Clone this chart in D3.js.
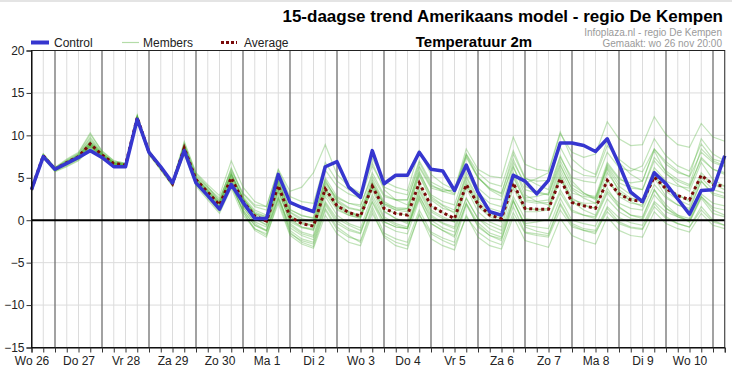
<!DOCTYPE html>
<html><head><meta charset="utf-8">
<script src="https://cdn.jsdelivr.net/npm/d3@7"></script>
<style>body{margin:0;background:#fff;} text{font-family:"Liberation Sans",Arial,sans-serif;}</style>
</head><body>
<script>
const dayLabels = ["Wo 26","Do 27","Vr 28","Za 29","Zo 30","Ma 1","Di 2","Wo 3","Do 4","Vr 5","Za 6","Zo 7","Ma 8","Di 9","Wo 10"];
const yTicks = [-15,-10,-5,0,5,10,15,20];
const control = [3.6,7.5,6.0,6.7,7.4,8.2,7.4,6.3,6.3,11.9,8.0,6.3,4.4,8.2,4.4,2.9,1.3,4.2,2.1,0.2,0.2,5.4,2.1,1.5,1.0,6.3,6.9,3.9,2.7,8.2,4.3,5.3,5.3,8.0,6.0,5.8,3.5,6.5,3.3,1.0,0.6,5.3,4.6,3.1,4.7,9.1,9.1,8.8,8.1,9.6,6.6,3.3,2.2,5.6,4.3,2.5,0.7,3.5,3.6,7.6];
const average = [3.6,7.6,6.0,6.8,7.5,9.0,7.7,6.7,6.5,12.1,8.0,6.2,4.3,8.5,4.8,3.3,1.8,5.0,2.2,0.5,-0.1,4.1,0.4,-0.4,-0.7,3.7,1.7,0.9,0.5,4.0,1.4,0.8,0.6,4.4,1.7,0.9,0.2,4.2,1.9,0.6,0.2,4.4,1.4,1.3,1.3,4.9,2.1,1.7,1.4,4.7,3.1,2.4,2.2,5.1,3.7,2.9,2.4,5.3,4.2,4.0];
const members = [
[3.5,7.8,6.2,7.0,7.6,9.4,7.9,6.8,6.6,12.3,8.2,6.4,4.5, 8.9,5.3,3.9,2.6,5.8,3.1,1.6,1.2,5.3,2.0,1.4,1.1, 5.9,4.0,3.1,2.6,6.4,3.9,3.3,3.0,7.0,4.5,3.8,3.1,7.4,5.0,3.7,3.1, 7.8,4.9,4.6,4.7,8.6,6.0,5.3,5.1,8.8,7.2,6.1,5.7,8.4,6.9,5.8,5.1,8.0,6.8,6.3],
[3.7,7.4,5.8,6.4,7.1,8.6,7.4,6.5,6.3,11.8,7.7,5.9,4.0, 8.0,4.2,2.6,1.0,4.1,1.2,-0.6,-1.3,2.8,-0.9,-1.8,-2.3, 2.0,-0.1,-1.0,-1.5,2.1,-0.6,-1.3,-1.6,2.4,-0.4,-1.2,-2.0,2.0,-0.3,-1.5,-2.0, 2.3,-0.6,-0.8,-1.0,2.6,0.0,-0.4,-0.7,2.5,1.0,0.2,0.0,3.0,1.4,0.6,0.2,3.1,2.0,1.7],
[3.6,7.7,6.1,6.9,7.8,9.8,8.0,6.9,6.6,12.4,8.1,6.3,4.2, 9.1,5.5,4.0,2.2,6.2,2.8,1.2,0.6,5.0,1.3,0.5,0.3, 4.6,2.4,1.5,1.2,4.2,1.1,0.2,-0.4,3.0,0.0,-0.9,-1.4,2.6,0.2,-1.0,-1.6, 2.4,-0.8,-1.3,-1.6,2.0,-0.4,-1.0,-1.2,1.6,0.3,-0.3,-0.6,2.2,1.0,0.4,0.0,2.8,1.5,1.2],
[3.5,7.5,5.9,6.6,7.3,8.8,7.6,6.6,6.4,12.0,8.0,6.1,4.4, 8.4,4.7,3.0,1.6,4.6,1.8,0.2,-0.5,3.6,-0.2,-0.9,-1.1, 3.1,1.2,0.6,0.3,4.3,1.9,1.5,1.4,5.6,3.0,2.2,1.8,6.1,3.8,2.6,2.4, 6.8,4.4,4.9,5.6,10.2,8.0,7.4,7.8,11.6,9.6,8.8,8.9,12.2,10.1,8.9,8.6,11.4,9.8,9.3],
[3.6,7.6,6.0,6.8,7.4,8.9,7.7,6.7,6.5,12.1,7.9,6.2,4.3, 8.6,4.6,3.1,1.4,4.8,1.6,-0.4,-1.2,3.2,-1.4,-2.6,-3.1, 1.2,-1.1,-2.0,-2.4,1.6,-1.5,-2.2,-2.6,1.2,-1.4,-2.1,-2.6,1.8,-0.6,-1.8,-2.4, 2.2,-0.4,-0.2,0.1,3.6,1.2,0.6,0.2,3.2,1.5,0.6,0.4,3.6,1.8,0.6,-0.2,2.6,0.8,0.4],
[3.7,7.6,6.1,7.1,7.9,10.1,8.2,7.0,6.7,12.2,8.1,6.2,4.5, 9.3,5.6,4.2,2.9,7.0,3.9,2.2,1.6,5.9,2.8,2.2,2.0, 6.8,4.6,3.6,3.0,7.3,4.6,3.9,3.5,8.2,5.4,4.3,3.6,7.8,5.1,3.6,2.8, 6.4,3.0,2.2,1.8,5.2,2.2,1.2,0.6,3.8,1.6,0.6,0.2,3.6,1.4,0.4,-0.2,2.8,1.2,0.6],
[3.5,7.6,6.0,6.9,7.6,9.2,7.8,6.8,6.5,12.0,8.0,6.3,4.2, 8.7,4.9,3.4,1.9,5.3,2.5,0.8,0.2,4.6,0.9,0.0,-0.3, 4.2,2.2,1.4,1.1,4.9,2.2,1.4,1.2,5.4,2.6,1.7,0.8,5.0,2.3,1.0,0.6, 5.3,2.2,2.0,2.1,6.0,3.2,2.8,2.6,6.4,4.4,3.8,3.6,7.0,5.4,4.6,4.0,7.2,6.0,5.6],
[3.6,7.3,5.7,6.3,7.0,8.4,7.2,6.4,6.2,11.7,7.8,6.0,4.1, 7.8,4.0,2.4,0.8,3.8,0.6,-1.0,-1.8,2.0,-1.8,-2.8,-3.3, 0.6,-1.6,-2.6,-3.0,0.8,-1.8,-2.6,-3.0,0.6,-1.6,-2.4,-3.0,0.4,-1.4,-2.4,-2.9, 0.9,-1.5,-1.8,-2.0,1.2,-0.8,-1.2,-1.4,1.0,-0.4,-0.9,-1.1,1.6,0.2,-0.4,-0.8,1.2,-0.2,-0.6],
[3.6,7.7,6.1,6.8,7.6,9.3,7.8,6.7,6.6,12.2,8.1,6.2,4.4, 8.8,5.2,3.8,2.4,6.0,3.2,1.8,1.6,6.0,3.4,3.9,5.6, 8.9,5.4,4.0,3.2,6.8,3.6,2.4,1.8,5.8,2.8,1.8,1.2,5.2,2.6,1.4,1.0, 5.6,2.6,2.8,3.2,7.4,5.0,4.6,4.4,8.0,6.2,5.8,6.4,9.6,7.6,6.4,5.8,9.0,7.2,6.8],
[3.7,7.5,5.9,6.7,7.3,8.7,7.5,6.6,6.4,12.0,7.9,6.1,4.2, 8.2,4.4,2.8,1.2,4.4,1.0,-1.2,-2.0,2.4,-1.6,-2.4,-2.8, 1.4,-0.8,-1.8,-2.6,1.2,-2.0,-3.0,-3.4,0.8,-2.2,-3.0,-3.5,0.6,-2.0,-3.0,-3.4, 0.4,-2.4,-2.8,-3.2,0.2,-1.8,-2.4,-2.8,0.4,-1.2,-1.8,-2.0,1.0,-0.4,-1.0,-1.4,0.8,-0.6,-1.0],
[3.5,7.7,6.2,7.2,8.0,10.3,8.1,7.0,6.7,12.3,8.1,6.3,4.3, 8.6,4.9,3.6,2.2,5.4,2.6,1.0,0.4,4.4,0.6,-0.2,-0.6, 3.8,1.8,1.0,0.6,4.6,2.0,1.2,1.0,5.2,2.4,1.4,1.0,5.6,3.2,2.0,1.6, 6.2,3.6,3.2,3.0,7.0,4.2,3.2,2.6,6.2,4.0,3.0,2.4,5.8,4.0,3.0,2.2,5.6,4.2,3.6],
[3.6,7.5,6.0,6.7,7.4,8.9,7.6,6.6,6.5,12.1,8.0,6.2,4.3, 8.5,4.7,3.2,1.6,4.9,1.9,0.2,-0.6,3.6,-0.4,-1.4,-1.8, 2.8,0.6,-0.4,-0.9,3.0,0.2,-0.6,-1.0,3.4,0.6,-0.3,-0.8,3.8,1.0,-0.2,-0.8, 3.8,1.0,1.0,1.2,5.0,2.4,2.0,2.0,6.6,4.8,4.4,4.6,8.4,6.6,5.6,5.2,9.6,7.8,7.0],
[3.6,7.8,6.2,7.0,7.8,9.6,7.9,6.8,6.6,12.2,8.2,6.4,4.5, 8.9,5.0,3.5,2.0,5.5,2.6,0.8,0.0,4.8,1.0,0.2,-0.2, 5.0,2.8,2.0,1.6,5.6,3.0,2.4,2.4,6.8,4.2,3.4,3.0,7.6,5.0,3.8,3.2, 7.2,4.0,3.4,3.0,6.6,3.6,2.6,2.0,5.6,3.6,2.6,2.4,6.2,4.6,4.0,3.8,7.4,6.0,5.4],
[3.6,7.6,6.0,6.6,7.2,8.6,7.4,6.5,6.4,11.9,7.9,6.1,4.2, 8.1,4.3,2.8,1.2,4.0,1.2,-0.6,-1.2,2.6,-0.6,-1.6,-2.0, 2.2,0.2,-0.6,-1.2,2.2,-0.2,-0.8,-1.0,2.8,0.4,-0.4,-1.0,2.6,0.2,-0.6,-1.2, 2.8,0.2,0.0,0.0,3.2,1.0,0.6,0.4,3.4,2.0,1.4,1.2,4.2,2.6,1.8,1.4,4.6,3.2,2.8],
[3.5,7.4,5.8,6.5,7.2,8.7,7.5,6.6,6.4,12.0,7.9,6.0,4.1, 8.3,4.5,3.0,1.5,4.6,1.5,-0.2,-0.8,3.4,0.0,-0.8,-1.0, 3.6,1.6,0.8,0.4,4.4,1.8,1.2,1.4,6.2,3.8,3.4,3.6,8.4,6.0,5.2,5.0, 9.8,6.6,6.0,5.8,10.4,7.2,6.0,5.4,9.4,6.8,5.4,4.6,8.2,5.6,4.2,3.4,6.8,4.8,4.0],
[3.7,7.7,6.0,6.9,7.7,9.1,7.8,6.8,6.5,12.1,8.0,6.2,4.4, 8.7,5.0,3.6,2.0,5.6,2.4,0.6,-0.2,4.2,0.2,-0.8,-1.2, 3.4,1.4,0.6,0.2,3.8,1.0,0.2,-0.2,4.0,1.2,0.4,-0.2,4.2,1.6,0.4,-0.2, 4.4,1.4,1.2,1.4,5.6,2.6,1.8,1.4,4.8,2.8,2.0,1.8,5.4,3.4,2.4,1.8,5.0,3.6,3.2],
[3.6,7.5,5.9,6.8,7.5,9.0,7.7,6.7,6.5,12.1,8.0,6.2,4.3, 8.4,4.8,3.3,1.8,5.2,2.2,0.4,-0.2,4.0,0.4,-0.4,-0.6, 4.4,2.6,2.0,1.8,5.2,2.8,2.4,2.4,6.4,4.0,3.6,3.4,7.8,5.6,4.4,4.0, 8.2,5.0,4.2,3.6,7.6,4.6,3.2,2.4,6.0,3.4,2.2,1.6,5.0,2.8,1.8,1.2,4.6,3.0,2.6],
[3.5,7.6,6.1,6.8,7.5,9.1,7.7,6.7,6.5,12.1,8.0,6.2,4.3, 8.3,4.4,2.9,1.2,4.3,1.0,-1.0,-1.6,2.6,-1.2,-2.2,-2.6, 1.8,-0.4,-1.2,-1.6,2.6,-0.2,-0.8,-1.0,3.6,1.0,0.2,-0.2,4.6,2.0,0.8,0.4, 5.0,2.4,2.2,2.4,6.4,3.8,3.0,2.8,6.8,5.0,4.0,3.6,7.4,5.8,4.8,4.2,8.4,7.0,6.4],
[3.6,7.6,6.0,6.8,7.5,9.0,7.7,6.7,6.5,12.1,8.0,6.2,4.3, 8.5,4.8,3.3,1.8,5.0,2.2,0.5,-0.1,4.1,0.4,-0.4,-0.7, 3.7,1.7,0.9,0.5,4.0,1.4,0.8,0.6,4.4,1.7,0.9,0.2,4.2,1.9,0.6,0.2, 4.4,1.4,1.3,1.3,4.9,2.1,1.7,1.4,4.7,3.1,2.4,2.2,5.1,3.7,2.9,2.4,5.3,4.2,4.0],
[3.6,7.5,6.0,6.7,7.4,8.8,7.6,6.6,6.5,12.0,8.0,6.2,4.3, 8.6,4.9,3.4,2.0,5.4,2.6,0.8,0.4,4.6,1.2,0.6,0.2, 4.8,2.2,1.0,0.4,3.6,0.4,-0.4,-0.8,2.6,-0.4,-1.2,-1.8,2.0,-0.8,-1.8,-2.2, 1.6,-1.4,-1.6,-1.8,1.8,-0.6,-1.2,-1.6,1.4,-0.2,-0.8,-1.0,2.0,0.4,-0.4,-0.8,1.6,0.0,-0.6]
];

const W = 732, H = 369;
const svg = d3.select("body").append("svg").attr("width", W).attr("height", H);
const x = d3.scaleLinear().domain([0, control.length - 1]).range([31.5, 724.75]);
const y = d3.scaleLinear().domain([-15, 20]).range([347.5, 50.5]);
const steps = d3.range(control.length);
const isDay = i => (i - 2) % 4 === 0;

svg.append("rect").attr("x",0).attr("y",0).attr("width",W).attr("height",2).attr("fill","#e4e4e4");

// grid
const g = svg.append("g");
g.selectAll("line.hg").data(yTicks.filter(v => v !== 0 && v !== 20 && v !== -15)).join("line")
  .attr("x1", x(0)).attr("x2", x(59)).attr("y1", d => y(d)).attr("y2", d => y(d))
  .attr("stroke", "#dcdcdc").attr("stroke-width", 1);
g.selectAll("line.vg").data(steps.filter(i => i > 0 && i < 59)).join("line")
  .attr("x1", d => x(d)).attr("x2", d => x(d)).attr("y1", y(20)).attr("y2", y(-15))
  .attr("stroke", d => isDay(d) ? "#707070" : "#dcdcdc").attr("stroke-width", d => isDay(d) ? 1.3 : 1);

const line = d3.line().x((d, i) => x(i)).y(d => y(d));

// members
svg.append("g").selectAll("path").data(members).join("path")
  .attr("d", line).attr("fill", "none").attr("stroke", "#55b340")
  .attr("stroke-opacity", 0.36).attr("stroke-width", 1.2);

// zero line
svg.append("line").attr("x1", x(0)).attr("x2", x(59)).attr("y1", y(0)).attr("y2", y(0))
  .attr("stroke", "#000").attr("stroke-width", 2);

// average
svg.append("path").datum(average).attr("d", line).attr("fill", "none")
  .attr("stroke", "#7a0a0a").attr("stroke-width", 3).attr("stroke-dasharray", "3,3");

// control
svg.append("path").datum(control).attr("d", line).attr("fill", "none")
  .attr("stroke", "#3636cf").attr("stroke-width", 3.5).attr("stroke-linejoin", "round");

// frame
svg.append("rect").attr("x", x(0)).attr("y", y(20)).attr("width", x(59) - x(0)).attr("height", y(-15) - y(20))
  .attr("fill", "none").attr("stroke", "#222").attr("stroke-width", 1);

// axes
const ax = svg.append("g").attr("transform", `translate(0,${y(-15)})`)
  .call(d3.axisBottom(x).tickValues(steps).tickSize(5).tickFormat(""));
ax.select(".domain").attr("stroke", "#000");
ax.selectAll(".tick line").attr("stroke", "#333");
const axl = svg.append("g").attr("transform", `translate(0,${y(-15)})`)
  .call(d3.axisBottom(x).tickValues(dayLabels.map((d, k) => k * 4)).tickSize(0).tickPadding(9)
    .tickFormat((d) => dayLabels[d / 4]));
axl.select(".domain").remove();
axl.selectAll("text").attr("font-size", 12).attr("fill", "#222").attr("font-family", "Liberation Sans, Arial, sans-serif");

const ay = svg.append("g").attr("transform", `translate(${x(0)},0)`)
  .call(d3.axisLeft(y).tickValues(yTicks).tickSize(5).tickPadding(2));
ay.select(".domain").attr("stroke", "#000");
ay.selectAll(".tick line").attr("stroke", "#333");
ay.selectAll("text").attr("font-size", 12).attr("fill", "#222").attr("font-family", "Liberation Sans, Arial, sans-serif");

// titles
svg.append("text").attr("x", 723).attr("y", 22).attr("text-anchor", "end")
  .attr("font-size", 17).attr("font-weight", "bold").attr("fill", "#000")
  .text("15-daagse trend Amerikaans model - regio De Kempen");
svg.append("text").attr("x", 474).attr("y", 47).attr("text-anchor", "middle")
  .attr("font-size", 15).attr("font-weight", "bold").attr("fill", "#000")
  .text("Temperatuur 2m");
svg.append("text").attr("x", 722).attr("y", 36).attr("text-anchor", "end")
  .attr("font-size", 10).attr("fill", "#9a9a9a").text("Infoplaza.nl - regio De Kempen");
svg.append("text").attr("x", 722).attr("y", 46.5).attr("text-anchor", "end")
  .attr("font-size", 10).attr("fill", "#9a9a9a").text("Gemaakt: wo 26 nov 20:00");

// legend
const legend = [
  {name: "Control", x1: 31, x2: 49, tx: 54, stroke: "#3636cf", w: 4, dash: null},
  {name: "Members", x1: 122, x2: 139, tx: 143, stroke: "#b4dca8", w: 1.2, dash: null},
  {name: "Average", x1: 221, x2: 237, tx: 244, stroke: "#7a0a0a", w: 3, dash: "3,2"}
];
const lg = svg.append("g");
legend.forEach(l => {
  lg.append("line").attr("x1", l.x1).attr("x2", l.x2).attr("y1", 42.5).attr("y2", 42.5)
    .attr("stroke", l.stroke).attr("stroke-width", l.w).attr("stroke-dasharray", l.dash);
  lg.append("text").attr("x", l.tx).attr("y", 47).attr("font-size", 12).attr("fill", "#222").text(l.name);
});
</script>
</body></html>
